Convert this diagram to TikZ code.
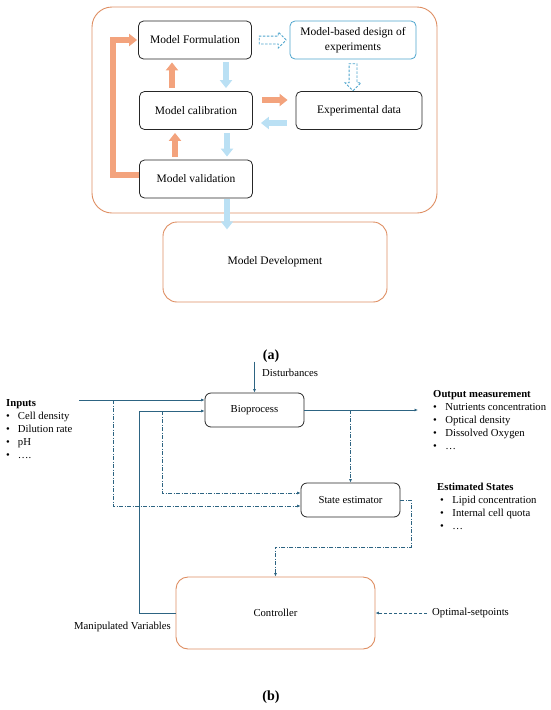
\documentclass[tikz,border=0pt]{standalone}
\usepackage{fontspec}
\setmainfont{Liberation Serif}
\usetikzlibrary{arrows.meta,calc,shapes.arrows}
\definecolor{oar}{RGB}{243,163,125}
\definecolor{lbl}{RGB}{186,224,244}
\definecolor{obd}{RGB}{222,142,98}
\definecolor{bbd}{RGB}{78,165,205}
\definecolor{sgc}{RGB}{45,100,130}
\newcommand{\fsa}{\fontsize{11.5}{15}\selectfont}
\newcommand{\fsb}{\fontsize{10.7}{13.1}\selectfont}
\tikzset{
  bx/.style={rectangle,rounded corners=5pt,draw=black!85,fill=white,line width=.8pt,minimum width=113pt,minimum height=38pt,align=center,inner sep=2pt,font=\fsa},
  bxw/.style={bx,minimum width=126pt},
  dv/.style={rectangle,rounded corners=14pt,draw=obd,line width=.9pt,minimum width=224pt,minimum height=80pt,font=\fsa},
  frm/.style={draw=obd,line width=.9pt,rounded corners=20pt},
  oa/.style={draw=oar,line width=6.5pt,-{Triangle[length=8pt,width=12pt]}},
  ba/.style={draw=lbl,line width=6.5pt,-{Triangle[length=8pt,width=12pt]}},
  ha/.style={single arrow,draw=bbd,dash pattern=on 2.5pt off 1.5pt,line width=.8pt,minimum height=27pt,single arrow head extend=4pt,single arrow head indent=0pt,inner sep=0pt},
  cpt/.style={font=\bfseries\fontsize{14}{16}\selectfont},
  % part (b): the control loop
  bp/.style={rectangle,rounded corners=6pt,draw=black!85,line width=.8pt,minimum width=99pt,minimum height=34pt,font=\fsb},
  ct/.style={rectangle,rounded corners=12pt,draw=obd,line width=.9pt,minimum width=199pt,minimum height=72pt,font=\fsb},
  sg/.style={draw=sgc,line width=1pt,-{Latex[length=3.5pt,width=3pt]}},
  sgd/.style={sg,line width=.8pt,dash pattern=on 4pt off 1.5pt on 1pt off 1.5pt},
  sgk/.style={sg,line width=.8pt,dash pattern=on 3pt off 2pt},
  lb/.style={font=\fsb,inner sep=0pt},
  lst/.style={font=\fsb,inner sep=0pt,anchor=base west},
}

\begin{document}
\begin{tikzpicture}[x=1pt,y=-1pt]
\useasboundingbox (0,0) rectangle (550,710);
% (a) the frame and its five boxes
\draw[frm] (92,7) rectangle (437,213);
\node[bx] (form) at (195,40) {Model Formulation};
\node[bxw,draw=bbd] (design) at (353,40) {Model-based design of\\experiments};
\node[bx] (calib) at (196,110.5) {Model calibration};
\node[bxw] (exp) at (359,110.5) {Experimental data};
\node[bx] (valid) at (196,179) {Model validation};
\node[dv] (dev) at (275,262) {Model Development};
% going up the chain, in orange
\draw[oa,shorten <=3pt,shorten >=3pt] ([xshift=-24pt]calib.north) -- ([xshift=-24pt]calib.north |- form.south);
\draw[oa,shorten <=3pt,shorten >=3pt] ([xshift=-21pt]valid.north) -- ([xshift=-21pt]valid.north |- calib.south);
\draw[oa,line join=miter,shorten >=1pt] ([yshift=4pt]valid.west) -- ++(-26,0) |- (form.west);
\draw[oa,shorten <=9pt,shorten >=8pt] ([yshift=10.5pt]calib.east) -- ([yshift=10.5pt]calib.east -| exp.west);
% going down, in light blue
\draw[ba,shorten <=3pt,shorten >=3pt] ([xshift=31pt]form.south) -- ([xshift=31pt]form.south |- calib.north);
\draw[ba,shorten <=3pt,shorten >=3pt] ([xshift=31pt]calib.south) -- ([xshift=31pt]calib.south |- valid.north);
\draw[ba,shorten <=9pt,shorten >=8pt] ([yshift=-12.5pt]exp.west) -- ([yshift=-12.5pt]exp.west -| calib.east);
\draw[ba,shorten <=1pt] ([xshift=31pt]valid.south) -- ++(0,31);
% the design step, dashed outline arrows
\node[ha] (h1) at ($(form.east)!.5!(design.west)$) {\rule{0pt}{7pt}};
\node[ha,shape border rotate=270] (h2) at ($(design.south)!.5!(design.south |- exp.north)$) {\rule{7pt}{0pt}};
\node[cpt] (capa) at (271,356) {(a)};
% (b) the plant, the estimator and the controller
\node[bp] (bio) at (254.5,410) {Bioprocess};
\node[bp] (est) at (350.5,500) {State estimator};
\node[ct] (ctrl) at (275.5,613) {Controller};
\coordinate (inp) at (79,400);
\coordinate (dst) at ($(bio.north)+(0,-31)$);
\coordinate (outp) at (418,410);
\coordinate (osp) at (427,613);
\coordinate (fbk) at (139,411);
\coordinate (tap1) at (113,400);
\coordinate (tap2) at (162,411);
\draw[sg] (inp) -- (inp -| bio.west);
\draw[sg] (dst) -- (bio.north);
\draw[sg] (bio.east) -- (outp);
\draw[sg] (ctrl.west) -| (fbk) -- (fbk -| bio.west);
% measured and input signals go to the estimator
\draw[sgd] (bio.east -| est.north) -- (est.north);
\draw[sgd] (tap1) |- ([yshift=-6pt]est.west);
\draw[sgd] (tap2) |- ([yshift=7pt]est.west);
\draw[sgd] (est.east) -- ++(11,0) -- ++(0,47) -| (ctrl.north);
\draw[sgk] (osp) -- (ctrl.east);
% labels
\node[lb,anchor=west] (dlab) at (262,373) {Disturbances};
\node[lb,anchor=east] (mvlab) at (171,627) {Manipulated Variables};
\node[lb,anchor=west] (oslab) at (432,613) {Optimal-setpoints};
\node[lst] (inl) at (6,406.5) {\begin{tabular}[t]{@{}l@{\hspace{8pt}}l@{}}
  \multicolumn{2}{@{}l@{}}{\textbf{Inputs}}\\
  \textbullet & Cell density\\ \textbullet & Dilution rate\\ \textbullet & pH\\ \textbullet & ….
  \end{tabular}};
\node[lst] (outl) at (433,397.5) {\begin{tabular}[t]{@{}l@{\hspace{8.5pt}}l@{}}
  \multicolumn{2}{@{}l@{}}{\textbf{Output measurement}}\\
  \textbullet & Nutrients concentration\\ \textbullet & Optical density\\ \textbullet & Dissolved Oxygen\\ \textbullet & …
  \end{tabular}};
\node[lst] (estl) at (437,490.5) {\begin{tabular}[t]{@{}l@{\hspace{8.5pt}}l@{}}
  \multicolumn{2}{@{}l@{}}{\textbf{Estimated States}}\\
  \hspace{3pt}\textbullet & Lipid concentration\\ \hspace{3pt}\textbullet & Internal cell quota\\ \hspace{3pt}\textbullet & …
  \end{tabular}};
\node[cpt] (capb) at (271,697) {(b)};
\end{tikzpicture}
\end{document}
